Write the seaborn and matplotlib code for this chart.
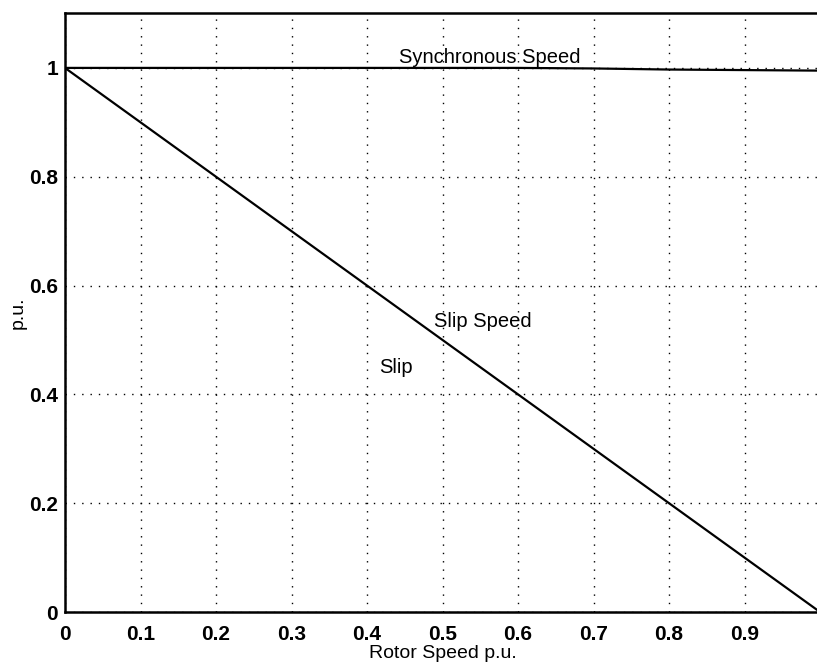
import matplotlib
matplotlib.use("Agg")
import matplotlib.pyplot as plt
import seaborn as sns
import pandas as pd

rotor_speed = [0.0, 0.1, 0.2, 0.3, 0.4, 0.5, 0.6, 0.7, 0.8, 0.9, 1.0]
sync_speed = [1.0, 1.0, 1.0, 1.0, 1.0, 1.0, 1.0, 0.999, 0.997, 0.996, 0.995]
slip_speed = [1.0, 0.9, 0.8, 0.7, 0.6, 0.5, 0.4, 0.3, 0.2, 0.1, 0.0]
x_ticks = [0, 0.1, 0.2, 0.3, 0.4, 0.5, 0.6, 0.7, 0.8, 0.9]
x_tick_labels = ["0", "0.1", "0.2", "0.3", "0.4", "0.5", "0.6", "0.7", "0.8", "0.9"]
y_ticks = [0, 0.2, 0.4, 0.6, 0.8, 1.0]
y_tick_labels = ["0", "0.2", "0.4", "0.6", "0.8", "1"]

sns.set_style("white")
plt.rcParams['font.family'] = ['Liberation Sans', 'DejaVu Sans']
plt.rcParams['text.color'] = 'black'
plt.rcParams['axes.labelcolor'] = 'black'

df = pd.DataFrame({"rotor": rotor_speed, "sync": sync_speed, "slip": slip_speed})

fig = plt.figure(figsize=(8.17, 6.62), dpi=100)
ax = fig.add_axes([65/817, 50/662, 755/817, 598.5/662])

sns.lineplot(data=df, x="rotor", y="sync", ax=ax, color="black", linewidth=1.6)
sns.lineplot(data=df, x="rotor", y="slip", ax=ax, color="black", linewidth=1.6)

ax.set_xlim(0, 1.0)
ax.set_ylim(0, 1.1)
ax.set_xticks(x_ticks)
ax.set_xticklabels(x_tick_labels)
ax.set_yticks(y_ticks)
ax.set_yticklabels(y_tick_labels)
ax.tick_params(direction="in", length=7, width=1.5, labelsize=15, colors="black", pad=5)
ax.tick_params(axis="x", pad=9)
for lbl in ax.get_xticklabels() + ax.get_yticklabels():
    lbl.set_fontweight("bold")
ax.grid(True, linestyle=(0, (1, 5)), color="black", linewidth=1.0)
for s in ax.spines.values():
    s.set_color("black")
    s.set_linewidth(1.8)

ax.set_xlabel("Rotor Speed p.u.", fontsize=14, labelpad=1, color="black")
ax.set_ylabel("p.u.", fontsize=14, labelpad=2, color="black")

ax.text(0.563, 1.02, "Synchronous Speed", fontsize=14.5, ha="center", va="center", color="black")
ax.text(0.553, 0.533, "Slip Speed", fontsize=14.5, ha="center", va="center", color="black")
ax.text(0.438, 0.45, "Slip", fontsize=14.5, ha="center", va="center", color="black")

fig.savefig("out.png", dpi=100)
